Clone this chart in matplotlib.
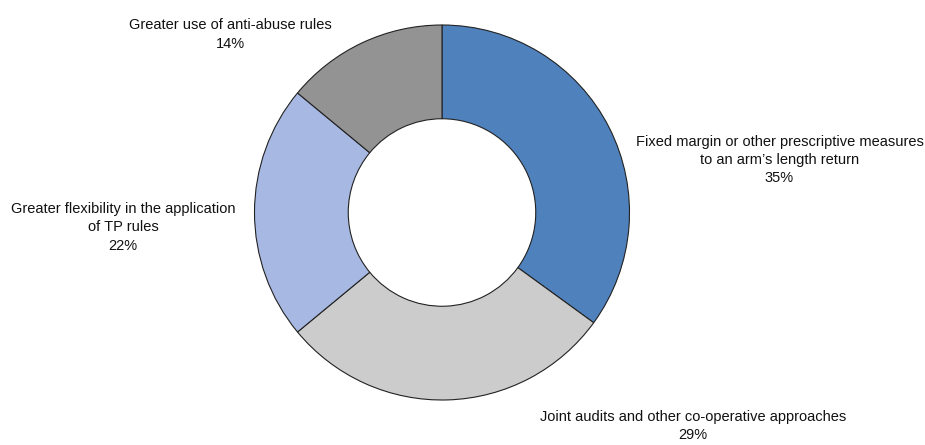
import matplotlib.pyplot as plt

labels = ["Fixed margin or other prescriptive measures\nto an arm\u2019s length return",
          "Joint audits and other co-operative approaches",
          "Greater flexibility in the application\nof TP rules",
          "Greater use of anti-abuse rules"]
shares = [35, 29, 22, 14]
colors = ["#4F81BD", "#CCCCCC", "#A7B9E3", "#939393"]

# where each label sits (data units, pie radius = 1)
label_pos = [(1.80, 0.28), (1.34, -1.14), (-1.70, -0.08), (-1.13, 0.95)]

plt.rcParams['font.family'] = ['Liberation Sans Narrow', 'Liberation Sans', 'DejaVu Sans']

fig = plt.figure(figsize=(9.25, 4.45), dpi=100)
ax = fig.add_axes([0, 0, 1, 1])
ax.pie(shares, colors=colors, startangle=90, counterclock=False, radius=1,
       wedgeprops=dict(width=0.5, edgecolor="#222222", linewidth=0.8))

for lab, v, (x, y) in zip(labels, shares, label_pos):
    ax.text(x, y, f"{lab}\n{v}%", ha="center", va="center",
            multialignment="center", fontsize=10.5, linespacing=1.4, color="#111111")

ax.set_xlim(-442/187.5, (925-442)/187.5)
ax.set_ylim(-(445-212.5)/187.5, 212.5/187.5)
ax.set_aspect("equal")
ax.axis("off")

fig.savefig("out.png", dpi=100)
